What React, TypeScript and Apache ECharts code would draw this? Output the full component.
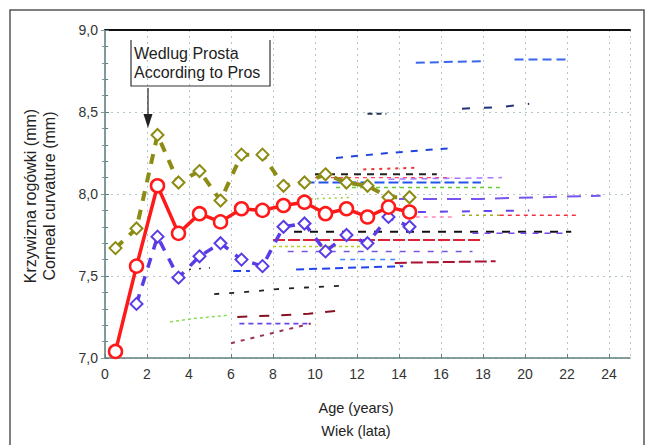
import React, { useEffect, useRef } from "react";
import * as echarts from "echarts";

// ---- main series (age in years, curvature in mm) ----
const ages = [0.5, 1.5, 2.5, 3.5, 4.5, 5.5, 6.5, 7.5, 8.5, 9.5, 10.5, 11.5, 12.5, 13.5, 14.5];
const redValues = [7.04, 7.56, 8.05, 7.76, 7.88, 7.83, 7.91, 7.9, 7.93, 7.95, 7.88, 7.91, 7.86, 7.92, 7.89];
const oliveValues = [7.67, 7.79, 8.36, 8.07, 8.14, 7.96, 8.24, 8.24, 8.05, 8.07, 8.12, 8.07, 8.05, 7.98, 7.98];
const blueValues = [null, 7.33, 7.74, 7.49, 7.62, 7.7, 7.6, 7.56, 7.8, 7.82, 7.65, 7.75, 7.7, 7.86, 7.8];

// ---- background comparison studies (x = age, y = curvature) ----
const bgA1 = [[14.8, 8.8], [17.9, 8.81]];
const bgA2 = [[19.5, 8.82], [22.0, 8.82]];
const bgB1 = [[12.5, 8.49], [13.4, 8.49]];
const bgB2 = [[17.0, 8.52], [18.8, 8.53], [20.2, 8.55]];
const bgC = [[11.0, 8.22], [13.5, 8.25], [16.5, 8.28]];
const bgD = [[12.3, 8.15], [14.8, 8.16]];
const bgE = [[10.0, 8.12], [15.8, 8.12]];
const bgF = [[10.0, 8.1], [16.5, 8.1]];
const bgG = [[13.5, 8.09], [18.9, 8.1]];
const bgH = [[9.5, 8.07], [17.9, 8.07]];
const bgI = [[11.0, 8.04], [18.8, 8.04]];
const bgJ = [[14.0, 7.97], [17.9, 7.97], [20.6, 7.98], [23.6, 7.99]];
const bgK = [[14.9, 7.89], [20.2, 7.9]];
const bgL1 = [[14.8, 7.86], [16.6, 7.86]];
const bgL2 = [[17.0, 7.87], [18.8, 7.87]];
const bgL3 = [[18.8, 7.87], [22.5, 7.87]];
const bgM1 = [[9.0, 7.77], [22.2, 7.77]];
const bgM2 = [[17.5, 7.76], [21.8, 7.76]];
const bgN = [[8.0, 7.72], [18.0, 7.72]];
const bgO = [[8.0, 7.68], [12.7, 7.68]];
const bgP = [[8.7, 7.65], [17.5, 7.65]];
const bgQ1 = [[6.1, 7.53], [6.9, 7.53]];
const bgQ2 = [[9.1, 7.54], [14.2, 7.56]];
const bgR = [[13.8, 7.58], [18.6, 7.59]];
const bgS = [[11.2, 7.6], [14.0, 7.6]];
const bgT = [[4.0, 7.54], [5.0, 7.55]];
const bgU = [[5.2, 7.39], [6.5, 7.4], [8.2, 7.42], [9.6, 7.43], [11.2, 7.44]];
const bgV = [[3.1, 7.22], [4.2, 7.24], [5.8, 7.26]];
const bgW = [[6.3, 7.25], [8.2, 7.26], [9.7, 7.27], [11.2, 7.29]];
const bgX = [[6.4, 7.21], [9.8, 7.21]];
const bgY = [[6.0, 7.09], [9.8, 7.21]];
const bgZ = [[9.8, 7.97], [11.8, 7.98]];

const xTicks = [0, 2, 4, 6, 8, 10, 12, 14, 16, 18, 20, 22, 24];

const FONT = '"Liberation Sans", Arial, sans-serif';

const bgStyles: [number[][], string, number, number[]][] = [
  [bgA1, "#3a66ee", 2, [9, 5]],
  [bgA2, "#3a66ee", 2, [9, 5]],
  [bgB1, "#223355", 2, [5, 4]],
  [bgB2, "#223377", 2, [8, 14]],
  [bgC, "#2244dd", 2, [7, 8]],
  [bgD, "#ee3333", 2, [3, 5]],
  [bgE, "#222222", 2, [7, 6]],
  [bgF, "#ff4466", 1.2, [4, 4]],
  [bgG, "#aa77ff", 1.5, [6, 5]],
  [bgH, "#2255ee", 2.2, [10, 4]],
  [bgI, "#66cc33", 1.5, [4, 4]],
  [bgJ, "#7755ee", 2, [14, 10]],
  [bgK, "#6644ee", 2, [8, 14]],
  [bgL1, "#ff88bb", 1.5, [4, 4]],
  [bgL2, "#aaaa22", 1.5, [3, 4]],
  [bgL3, "#ee3344", 1.5, [4, 4]],
  [bgM1, "#111111", 2, [8, 8]],
  [bgM2, "#7744ee", 1.5, [6, 6]],
  [bgN, "#dd2233", 2, [12, 3]],
  [bgO, "#bbcc22", 1.5, [3, 3]],
  [bgP, "#7755dd", 1.5, [6, 8]],
  [bgQ1, "#2244ee", 2, [8, 5]],
  [bgQ2, "#2244ee", 2, [8, 5]],
  [bgR, "#aa1133", 2, [12, 4]],
  [bgS, "#4488ff", 1.5, [5, 5]],
  [bgT, "#333333", 1.5, [2, 8]],
  [bgU, "#222222", 1.8, [5, 10]],
  [bgV, "#88dd55", 1.5, [3, 3]],
  [bgW, "#881122", 2, [10, 12]],
  [bgX, "#6644ee", 1.8, [5, 4]],
  [bgY, "#993355", 2, [4, 6]],
  [bgZ, "#99cc33", 1.5, [2, 4]],
];

export default function App() {
  const ref = useRef<HTMLDivElement>(null);
  useEffect(() => {
    if (!ref.current) return;
    const chart = echarts.init(ref.current, null, { renderer: "svg" });
    const pair = (vals: (number | null)[]) =>
      ages.map((a, i) => (vals[i] == null ? [a, "-"] : [a, vals[i]]));

    const bgSeries = bgStyles.map(([d, color, width, dash]) => ({
      type: "line",
      data: d,
      symbol: "none",
      z: 2,
      silent: true,
      lineStyle: { color, width, type: dash, cap: "butt" },
    }));

    const axisColor = "#5f7f7f";
    chart.setOption({
      animation: false,
      backgroundColor: "#ffffff",
      grid: { left: 105, top: 30, right: 21, bottom: 87, containLabel: false },
      xAxis: [
        {
          type: "value",
          min: 0,
          max: 25,
          interval: 2,
          axisLine: { show: true, lineStyle: { color: axisColor, width: 1.5 } },
          axisTick: { show: true, inside: true, length: 4, lineStyle: { color: axisColor } },
          axisLabel: {
            showMaxLabel: false,
            margin: 9,
            color: "#333",
            fontSize: 14,
            fontFamily: FONT,
            formatter: (v: number) => (xTicks.includes(v) ? String(v) : ""),
          },
          splitLine: { show: true, lineStyle: { color: "#b4c6c6", type: [2, 4], width: 1 } },
        },
        {
          type: "value",
          position: "top",
          min: 0,
          max: 25,
          axisLine: { show: true, lineStyle: { color: "#111", width: 2 } },
          axisTick: { show: false },
          axisLabel: { show: false },
          splitLine: { show: false },
        },
      ],
      yAxis: [
        {
          type: "value",
          min: 7,
          max: 9,
          interval: 0.5,
          axisLine: { show: true, lineStyle: { color: axisColor, width: 1.5 } },
          axisTick: { show: true, inside: true, length: 4, lineStyle: { color: axisColor } },
          minorTick: { show: true, splitNumber: 5, length: 3, lineStyle: { color: axisColor } },
          axisLabel: {
            margin: 7,
            color: "#333",
            fontSize: 14,
            fontFamily: FONT,
            formatter: (v: number) => v.toFixed(1).replace(".", ","),
          },
          splitLine: { show: true, lineStyle: { color: "#b4c6c6", type: [2, 4], width: 1 } },
        },
        {
          type: "value",
          position: "right",
          min: 7,
          max: 9,
          interval: 0.5,
          axisLine: { show: true, lineStyle: { color: "#7f9a9a", width: 1.5 } },
          axisTick: { show: true, inside: true, length: 4, lineStyle: { color: "#7f9a9a" } },
          minorTick: { show: true, splitNumber: 5, length: 3, lineStyle: { color: "#7f9a9a" } },
          axisLabel: { show: false },
          splitLine: { show: false },
        },
      ],
      series: [
        ...bgSeries,
        {
          type: "line",
          name: "olive",
          data: pair(oliveValues),
          z: 8,
          symbol: "diamond",
          symbolSize: 12,
          itemStyle: { color: "#fff", borderColor: "#8c8c14", borderWidth: 2 },
          lineStyle: { color: "#8c8c14", width: 4, type: [10, 9] },
        },
        {
          type: "line",
          name: "blue",
          data: pair(blueValues),
          z: 9,
          symbol: "diamond",
          symbolSize: 12,
          itemStyle: { color: "#fff", borderColor: "#5a3ce6", borderWidth: 2 },
          lineStyle: { color: "#5a3ce6", width: 3.5, type: [10, 9] },
        },
        {
          type: "line",
          name: "red",
          data: pair(redValues),
          z: 10,
          symbol: "circle",
          symbolSize: 13,
          itemStyle: { color: "#fff", borderColor: "#ff1a1a", borderWidth: 2.5 },
          lineStyle: { color: "#ff1a1a", width: 3.5 },
        },
      ],
      graphic: [
        {
          type: "rect",
          z: 0,
          shape: { x: 10, y: 10, width: 634, height: 470 },
          style: { fill: "none", stroke: "#555", lineWidth: 1.5 },
          silent: true,
        },
        {
          type: "polyline",
          z: 20,
          shape: { points: [[131, 40], [131, 86], [270, 86], [270, 40]] },
          style: { fill: "none", stroke: "#333", lineWidth: 1.2 },
        },
        {
          type: "text",
          z: 20,
          x: 134,
          y: 53,
          style: { text: "Wedlug Prosta", font: `16px ${FONT}`, fill: "#222", verticalAlign: "middle", align: "left" },
        },
        {
          type: "text",
          z: 20,
          x: 134,
          y: 72,
          style: { text: "According to Pros", font: `16px ${FONT}`, fill: "#222", verticalAlign: "middle", align: "left" },
        },
        {
          type: "line",
          z: 20,
          shape: { x1: 148, y1: 88, x2: 148, y2: 118 },
          style: { stroke: "#222", lineWidth: 1.2 },
        },
        {
          type: "polygon",
          z: 20,
          shape: { points: [[143.5, 114], [152.5, 114], [148, 128]] },
          style: { fill: "#222" },
        },
        {
          type: "text",
          x: 30,
          y: 196,
          rotation: Math.PI / 2,
          style: { text: "Krzywizna rogówki (mm)", font: `16px ${FONT}`, fill: "#222", align: "center", verticalAlign: "middle" },
        },
        {
          type: "text",
          x: 49,
          y: 196,
          rotation: Math.PI / 2,
          style: { text: "Corneal curvature (mm)", font: `16px ${FONT}`, fill: "#222", align: "center", verticalAlign: "middle" },
        },
        {
          type: "text",
          x: 356,
          y: 408,
          style: { text: "Age (years)", font: `14.5px ${FONT}`, fill: "#222", align: "center", verticalAlign: "middle" },
        },
        {
          type: "text",
          x: 356,
          y: 431,
          style: { text: "Wiek (lata)", font: `14.5px ${FONT}`, fill: "#222", align: "center", verticalAlign: "middle" },
        },
      ],
    });
    return () => chart.dispose();
  }, []);
  return (
    <div
      ref={ref}
      style={{ position: "fixed", left: 0, top: 0, width: 651, height: 445, background: "#fff" }}
    />
  );
}
